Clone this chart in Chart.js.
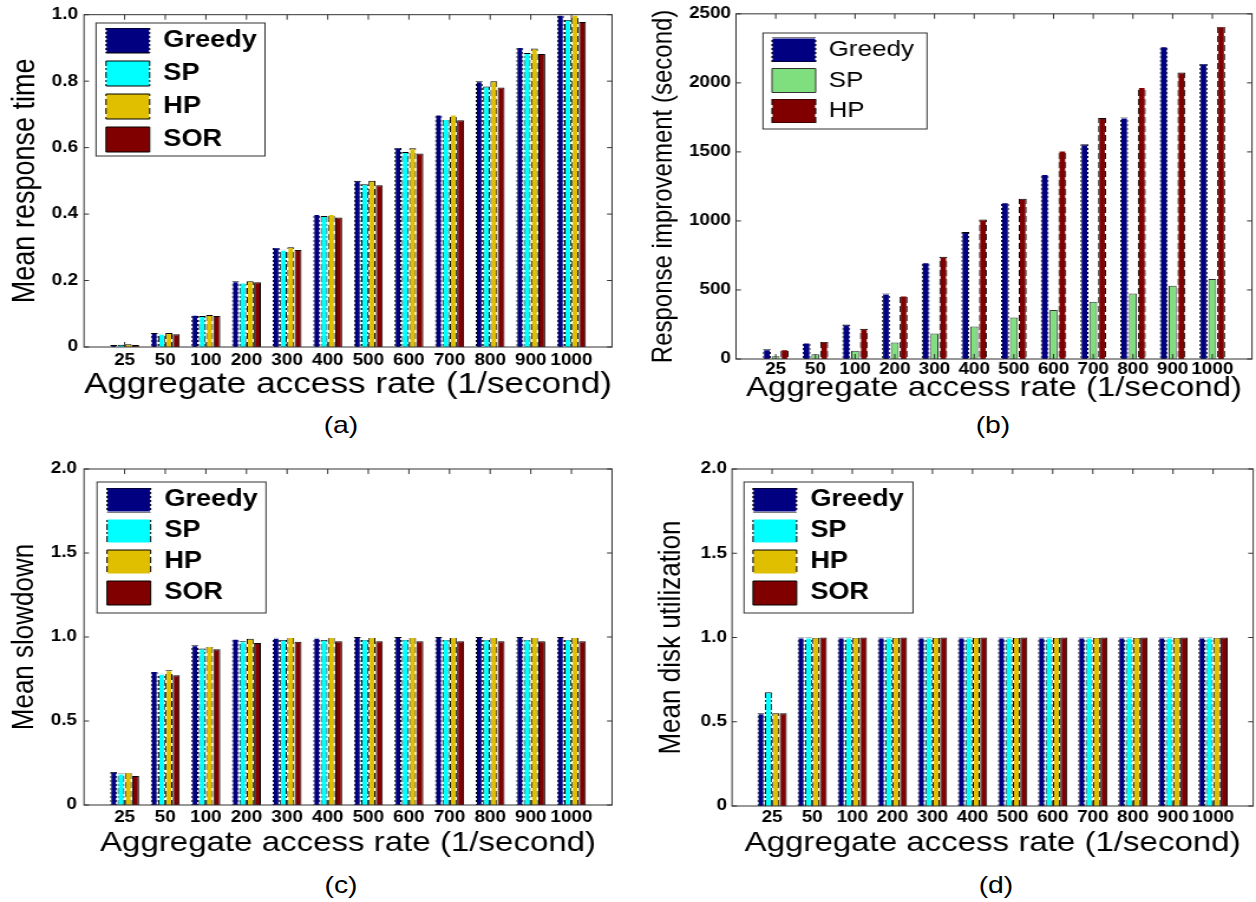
<!DOCTYPE html>
<html>
<head>
<meta charset="utf-8">
<script src="https://cdn.jsdelivr.net/npm/chart.js@4.4.1/dist/chart.umd.min.js"></script>
<style>
  html, body { margin: 0; padding: 0; background: #fff; }
  body { width: 1256px; height: 902px; position: relative; overflow: hidden;
         font-family: 'Liberation Sans', Arial, sans-serif; }
  .panel { position: absolute; transform-origin: 0 0; }
  .panel canvas { display: block; }
  .cap { position: absolute; font-size: 24px; color: #000;
         transform: translate(-50%, -50%) scaleX(1.18); white-space: nowrap; }
</style>
</head>
<body>
<div class="cap" style="left:341px;top:425px">(a)</div>
<div class="cap" style="left:993px;top:425px">(b)</div>
<div class="cap" style="left:341px;top:885px">(c)</div>
<div class="cap" style="left:996px;top:885px">(d)</div>
<script>
// x categories, shared by all four plots
const rates = ['25', '50', '100', '200', '300', '400', '500', '600', '700', '800', '900', '1000'];
const xTitle = 'Aggregate access rate (1/second)';

// (a) mean response time
const respGreedy = [0.006, 0.042, 0.097, 0.198, 0.300, 0.400, 0.500, 0.600, 0.700, 0.800, 0.903, 1.000];
const respSP     = [0.007, 0.040, 0.093, 0.194, 0.293, 0.394, 0.490, 0.587, 0.685, 0.784, 0.885, 0.985];
const respHP     = [0.008, 0.042, 0.096, 0.198, 0.300, 0.400, 0.500, 0.598, 0.700, 0.800, 0.898, 1.000];
const respSOR    = [0.006, 0.038, 0.093, 0.195, 0.292, 0.390, 0.487, 0.582, 0.682, 0.781, 0.882, 0.978];
const ticksA = ['0', '0.2', '0.4', '0.6', '0.8', '1.0'];

// (b) response improvement (second)
const imprGreedy = [70, 120, 250, 475, 700, 920, 1135, 1340, 1555, 1750, 2265, 2140];
const imprSP     = [20, 35, 60, 120, 185, 235, 300, 355, 415, 475, 530, 580];
const imprHP     = [70, 125, 220, 460, 740, 1010, 1160, 1510, 1745, 1970, 2075, 2410];
const ticksB = ['0', '500', '1000', '1500', '2000', '2500'];

// (c) mean slowdown
const slowGreedy = [0.198, 0.797, 0.951, 0.989, 0.995, 0.995, 1.0, 1.0, 1.0, 1.0, 1.0, 1.0];
const slowSP     = [0.187, 0.781, 0.932, 0.975, 0.983, 0.983, 0.985, 0.985, 0.985, 0.985, 0.985, 0.985];
const slowHP     = [0.196, 0.802, 0.945, 0.989, 1.0, 1.0, 1.0, 1.0, 1.0, 1.0, 1.0, 1.0];
const slowSOR    = [0.172, 0.773, 0.927, 0.965, 0.971, 0.975, 0.975, 0.975, 0.975, 0.975, 0.975, 0.975];
const ticksCD = ['0', '0.5', '1.0', '1.5', '2.0'];

// (d) mean disk utilization
const utilGreedy = [0.55, 1, 1, 1, 1, 1, 1, 1, 1, 1, 1, 1];
const utilSP     = [0.675, 1, 1, 1, 1, 1, 1, 1, 1, 1, 1, 1];
const utilHP     = [0.55, 1, 1, 1, 1, 1, 1, 1, 1, 1, 1, 1];
const utilSOR    = [0.55, 1, 1, 1, 1, 1, 1, 1, 1, 1, 1, 1];

Chart.defaults.font.family = "'Liberation Sans', Arial, sans-serif";
Chart.defaults.color = '#000';

// the source figure is stretched sideways, so every panel is drawn narrow and scaled
const S0 = 1.18;
const TICK_SIZE = 16;

// bar edges: dotted / dash-dot / dashed, done with a repeating pattern
function edgePattern(runs) {
    const total = runs.reduce((s, r) => s + r[1], 0);
    const c = document.createElement('canvas');
    c.width = 2;
    c.height = total;
    const g = c.getContext('2d');
    let y = 0;
    runs.forEach(([col, len]) => {
        g.fillStyle = col;
        g.fillRect(0, y, 2, len);
        y += len;
    });
    return g.createPattern(c, 'repeat');
}
const dotted = edgePattern([['#000', 2], ['#fff', 2]]);
const dashDot = edgePattern([['#000', 6], ['#fff', 2], ['#000', 2], ['#fff', 2]]);
const dashed = edgePattern([['#000', 6], ['#fff', 3]]);

function bars(label, values, bg, edge) {
    return {
        label: label,
        backgroundColor: bg,
        borderColor: edge,
        borderWidth: 1,
        data: values.map((v, i) => ({ x: i + 1, y: v }))
    };
}

// box around the axes with inward ticks on all four sides
const axesBox = {
    id: 'axesBox',
    afterDatasetsDraw(chart, args, opts) {
        const { ctx, chartArea: a } = chart;
        const x = chart.scales.x, y = chart.scales.y;
        ctx.save();
        ctx.strokeStyle = '#333';
        ctx.lineWidth = 1;
        ctx.strokeRect(a.left, a.top, a.right - a.left, a.bottom - a.top);
        ctx.beginPath();
        for (let v = 1; v <= rates.length; v++) {
            const px = x.getPixelForValue(v);
            ctx.moveTo(px, a.bottom); ctx.lineTo(px, a.bottom - 5);
            ctx.moveTo(px, a.top); ctx.lineTo(px, a.top + 5);
        }
        y.ticks.forEach(t => {
            const py = y.getPixelForValue(t.value);
            ctx.moveTo(a.left, py); ctx.lineTo(a.left + opts.tick, py);
            ctx.moveTo(a.right, py); ctx.lineTo(a.right - opts.tick, py);
        });
        ctx.stroke();
        ctx.restore();
    }
};

// move the legend into the upper left corner and frame it
const legendPlace = {
    id: 'legendPlace',
    afterLayout(chart, args, opts) {
        const lg = chart.legend;
        const pad = lg.options.labels.padding;
        lg.left = opts.x - pad;
        lg.top = opts.y - pad;
    },
    afterDraw(chart, args, opts) {
        const ctx = chart.ctx;
        const f = opts.frame;
        ctx.save();
        ctx.strokeStyle = '#333';
        ctx.lineWidth = 1;
        ctx.strokeRect(f[0], f[1], f[2] - f[0], f[3] - f[1]);
        ctx.restore();
    }
};

function makePanel(p) {
    const cw = Math.round(p.w / S0);
    const sx = p.w / cw;
    const cx = v => (v - p.x0) / sx;
    const cy = v => v - p.y0;
    const [L, T, R, B] = p.area;

    const box = document.createElement('div');
    box.className = 'panel';
    box.style.cssText = 'left:' + p.x0 + 'px;top:' + p.y0 + 'px;width:' + cw + 'px;height:' + p.h + 'px;transform:scaleX(' + sx + ')';
    const cv = document.createElement('canvas');
    box.appendChild(cv);
    document.body.appendChild(box);

    const tickFont = { size: TICK_SIZE, weight: 'bold' };
    const P = p.leg.step - Math.max(p.leg.font, p.leg.bh);

    new Chart(cv, {
        type: 'bar',
        data: { datasets: p.datasets },
        options: {
            responsive: true,
            maintainAspectRatio: false,
            animation: false,
            layout: { padding: { left: 0, top: cy(T), right: cw - cx(R), bottom: 0 } },
            datasets: { bar: { categoryPercentage: p.catPct, barPercentage: p.barPct } },
            scales: {
                x: {
                    type: 'linear',
                    offset: false,
                    min: 0,
                    max: rates.length + 1,
                    grid: { display: false, drawTicks: false },
                    border: { display: false },
                    ticks: {
                        stepSize: 1, autoSkip: false, maxRotation: 0, font: tickFont, color: '#000',
                        padding: p.xTickCy - B - TICK_SIZE * 0.6,
                        callback: v => rates[v - 1] || ''
                    },
                    title: {
                        display: true, text: xTitle, color: '#000',
                        font: { size: p.xTitleSize, weight: 'normal' },
                        padding: { top: 0, bottom: p.y0 + p.h - p.xTitleCy - p.xTitleSize * 0.6 }
                    },
                    afterFit: s => { s.height = p.y0 + p.h - B; }
                },
                y: {
                    min: 0,
                    max: p.yMax,
                    grid: { display: false, drawTicks: false },
                    border: { display: false },
                    ticks: {
                        stepSize: p.yStep, font: tickFont, color: '#000',
                        padding: (L - p.yTickRight) / sx,
                        callback: (v, i) => p.yTicks[i]
                    },
                    title: {
                        display: true, text: p.yTitle, color: '#000',
                        font: { size: p.yTitleSize, weight: 'normal' },
                        padding: { top: cx(p.yTitleCx) - p.yTitleSize * 0.6, bottom: 0 }
                    },
                    afterFit: s => { s.width = cx(L); }
                }
            },
            plugins: {
                legend: {
                    position: 'chartArea',
                    align: 'start',
                    labels: {
                        boxWidth: 37,
                        boxHeight: p.leg.bh,
                        padding: P,
                        color: '#000',
                        font: { size: p.leg.font, weight: p.leg.weight }
                    }
                },
                tooltip: { enabled: false },
                axesBox: { tick: 5 / sx },
                legendPlace: {
                    x: cx(p.leg.sw[0]),
                    y: cy(p.leg.sw[1]),
                    frame: [cx(p.leg.frame[0]), cy(p.leg.frame[1]), cx(p.leg.frame[2]), cy(p.leg.frame[3])]
                }
            }
        },
        plugins: [axesBox, legendPlace]
    });
}

makePanel({
    x0: 0, y0: 0, w: 628, h: 420, area: [84, 14, 612, 347],
    datasets: [
        bars('Greedy', respGreedy, '#000080', dotted),
        bars('SP', respSP, '#00ffff', dashDot),
        bars('HP', respHP, '#dfbf00', dashed),
        bars('SOR', respSOR, '#800000', '#000')
    ],
    catPct: 0.72, barPct: 0.95,
    yMax: 1, yStep: 0.2, yTicks: ticksA, yTickRight: 78,
    yTitle: 'Mean response time', yTitleSize: 27, yTitleCx: 25,
    xTickCy: 361, xTitleCy: 385, xTitleSize: 30,
    leg: { frame: [96, 23, 265, 156], sw: [106, 28], bh: 25, step: 33, font: 23, weight: 'bold' }
});

makePanel({
    x0: 628, y0: 0, w: 628, h: 420, area: [736, 13, 1252, 359],
    datasets: [
        bars('Greedy', imprGreedy, '#000080', dotted),
        bars('SP', imprSP, '#7fdf7f', '#333'),
        bars('HP', imprHP, '#800000', dashed)
    ],
    catPct: 0.667, barPct: 0.9,
    yMax: 2500, yStep: 500, yTicks: ticksB, yTickRight: 731,
    yTitle: 'Response improvement (second)', yTitleSize: 24, yTitleCx: 664,
    xTickCy: 370, xTitleCy: 388, xTitleSize: 28,
    leg: { frame: [763, 33, 927, 129], sw: [772, 38], bh: 24, step: 30.5, font: 22, weight: 'normal' }
});

makePanel({
    x0: 0, y0: 440, w: 628, h: 460, area: [84, 469, 612, 805],
    datasets: [
        bars('Greedy', slowGreedy, '#000080', dotted),
        bars('SP', slowSP, '#00ffff', dashDot),
        bars('HP', slowHP, '#dfbf00', dashed),
        bars('SOR', slowSOR, '#800000', '#000')
    ],
    catPct: 0.72, barPct: 0.95,
    yMax: 2, yStep: 0.5, yTicks: ticksCD, yTickRight: 77,
    yTitle: 'Mean slowdown', yTitleSize: 26, yTitleCx: 24.5,
    xTickCy: 818, xTitleCy: 843, xTitleSize: 28,
    leg: { frame: [97, 482, 266, 613], sw: [107, 488], bh: 24, step: 31, font: 23, weight: 'bold' }
});

makePanel({
    x0: 628, y0: 440, w: 628, h: 460, area: [732, 469, 1254, 806],
    datasets: [
        bars('Greedy', utilGreedy, '#000080', dotted),
        bars('SP', utilSP, '#00ffff', dashDot),
        bars('HP', utilHP, '#dfbf00', dashed),
        bars('SOR', utilSOR, '#800000', '#000')
    ],
    catPct: 0.74, barPct: 0.95,
    yMax: 2, yStep: 0.5, yTicks: ticksCD, yTickRight: 727,
    yTitle: 'Mean disk utilization', yTitleSize: 26, yTitleCx: 672,
    xTickCy: 818, xTitleCy: 843, xTitleSize: 28,
    leg: { frame: [744, 482, 913, 613], sw: [753, 488], bh: 24, step: 31, font: 23, weight: 'bold' }
});
</script>
</body>
</html>
